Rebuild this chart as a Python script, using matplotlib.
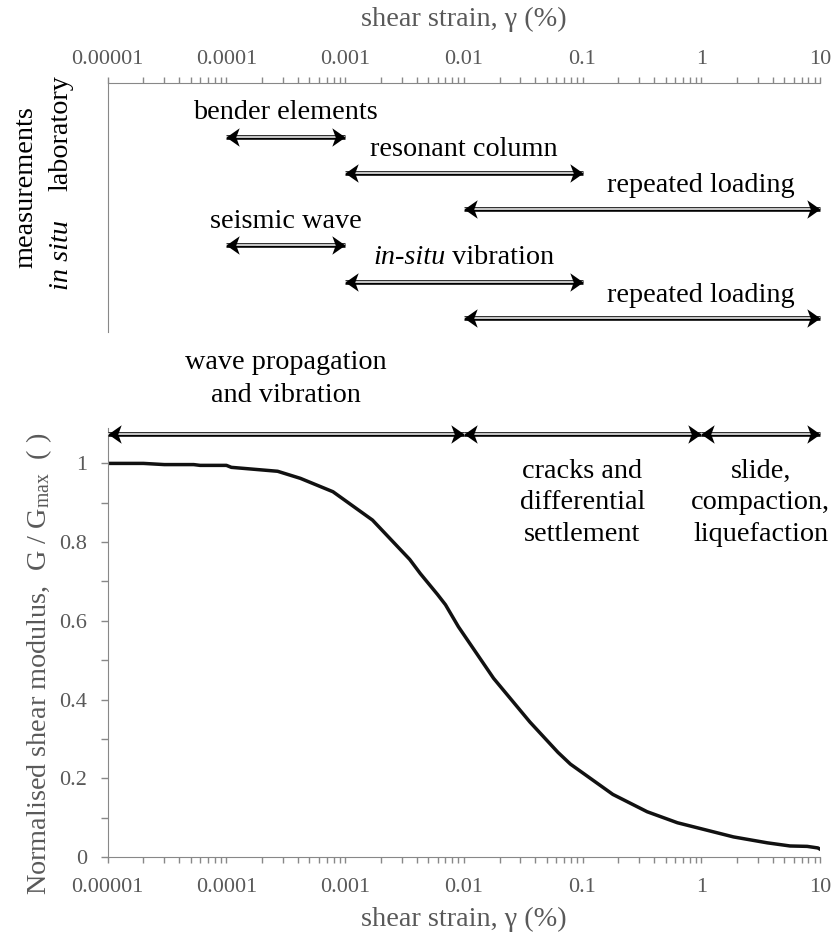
import matplotlib
matplotlib.use("Agg")
import matplotlib.pyplot as plt
from matplotlib.path import Path
from matplotlib.markers import MarkerStyle
from matplotlib.offsetbox import TextArea, HPacker, AnnotationBbox
from matplotlib.ticker import FixedLocator, NullFormatter, LogLocator

plt.rcParams['font.family'] = ['Liberation Serif', 'DejaVu Serif']
plt.rcParams['mathtext.fontset'] = 'custom'
plt.rcParams['mathtext.rm'] = 'Liberation Serif'
plt.rcParams['mathtext.it'] = 'Liberation Serif:italic'

# G/Gmax degradation curve read along the strain axis (%)
strain = [1e-5, 2e-5, 3e-5, 5.3e-5, 6e-5, 1e-4, 1.1e-4, 2.7e-4, 4.2e-4, 7.9e-4,
          1.7e-3, 3.5e-3, 4.3e-3, 6e-3, 7e-3, 9e-3, 0.0178, 0.036, 0.062, 0.079,
          0.18, 0.35, 0.63, 1.87, 3.6, 5.6, 7.8, 9.6, 10]
g_ratio = [1.0, 1.0, 0.997, 0.997, 0.995, 0.995, 0.99, 0.98, 0.962, 0.928,
           0.856, 0.756, 0.72, 0.667, 0.641, 0.585, 0.454, 0.343, 0.266, 0.236,
           0.159, 0.115, 0.087, 0.051, 0.036, 0.028, 0.027, 0.023, 0.02]

# measurement ranges (top panel), one row each
tests = ['bender elements', 'resonant column', 'repeated loading',
         'seismic wave', 'in-situ vibration', 'repeated loading']
test_lo = [1e-4, 1e-3, 1e-2, 1e-4, 1e-3, 1e-2]
test_hi = [1e-3, 1e-1, 10, 1e-3, 1e-1, 10]
test_mid = [3.16e-4, 1e-2, 1.0, 3.16e-4, 1e-2, 1.0]

# behaviour zones (bottom panel)
zones = ['wave propagation\nand vibration', 'cracks and\ndifferential\nsettlement',
         'slide,\ncompaction,\nliquefaction']
zone_lo = [1e-5, 1e-2, 1]
zone_hi = [1e-2, 1, 10]
zone_mid = [3.16e-4, 0.1, 3.16]

xticks = [1e-5, 1e-4, 1e-3, 1e-2, 1e-1, 1, 10]
xlabels = ['0.00001', '0.0001', '0.001', '0.01', '0.1', '1', '10']
yticks = [0, 0.2, 0.4, 0.6, 0.8, 1.0]
ylabels = ['0', '0.2', '0.4', '0.6', '0.8', '1']

GREY = '#595959'
AXGREY = '#888888'
FS = 20.3
TFS = 16

HEAD_R = MarkerStyle(Path([(0, 0), (-1, 0.7), (-0.74, 0), (-1, -0.7), (0, 0)],
                          [Path.MOVETO, Path.LINETO, Path.LINETO, Path.LINETO, Path.CLOSEPOLY]))
HEAD_L = MarkerStyle(Path([(0, 0), (1, 0.7), (0.74, 0), (1, -0.7), (0, 0)],
                          [Path.MOVETO, Path.LINETO, Path.LINETO, Path.LINETO, Path.CLOSEPOLY]))


def dbl_arrow(ax, x0, x1, y):
    kw = dict(clip_on=False, solid_capstyle='butt')
    ax.plot([x0, x1], [y, y], color='k', lw=3.3, zorder=3, **kw)
    ax.plot([x0, x1], [y, y], color='w', lw=1.1, zorder=4, **kw)
    ax.plot([x1], [y], marker=HEAD_R, ms=19, color='k', mew=0, clip_on=False, zorder=5)
    ax.plot([x0], [y], marker=HEAD_L, ms=19, color='k', mew=0, clip_on=False, zorder=5)


def style_xaxis(ax, pad):
    ax.set_xscale('log')
    ax.set_xlim(1e-5, 10)
    ax.xaxis.set_major_locator(FixedLocator(xticks))
    ax.set_xticklabels(xlabels)
    ax.xaxis.set_minor_locator(LogLocator(base=10, subs=range(2, 10), numticks=20))
    ax.xaxis.set_minor_formatter(NullFormatter())
    ax.tick_params(axis='x', which='both', direction='out', length=4,
                   color=AXGREY, labelcolor=GREY, labelsize=TFS, width=1, pad=pad)


fig = plt.figure(figsize=(8.35, 9.4), dpi=100)

# ---- top panel: test methods ----
ax1 = fig.add_axes([0.129, 0.647, 0.853, 0.2649])
style_xaxis(ax1, 6)
ax1.xaxis.tick_top()
ax1.xaxis.set_label_position('top')
ax1.set_xlabel('shear strain, γ (%)', fontsize=FS, color=GREY, labelpad=17)
ax1.set_ylim(5.39, -1.49)
ax1.set_yticks([])
for s in ['bottom', 'right']:
    ax1.spines[s].set_visible(False)
for s in ['top', 'left']:
    ax1.spines[s].set_color(AXGREY)

for i in range(len(tests)):
    dbl_arrow(ax1, test_lo[i], test_hi[i], i)
    ty = i - 0.66 if i < 5 else i - 0.6
    if tests[i].startswith('in-situ'):
        box = HPacker(children=[TextArea('in-situ', textprops=dict(fontsize=FS, style='italic')),
                                TextArea(' vibration', textprops=dict(fontsize=FS))],
                      align='baseline', pad=0, sep=0)
        ab = AnnotationBbox(box, (test_mid[i], ty), frameon=False,
                            box_alignment=(0.5, 0.5), pad=0)
        ax1.add_artist(ab)
    else:
        ax1.text(test_mid[i], ty, tests[i], fontsize=FS, ha='center', va='center')

fig.text(26 / 835, 1 - 187 / 940, 'measurements', rotation=90, fontsize=FS,
         ha='center', va='center')
fig.text(61 / 835, 1 - 133 / 940, 'laboratory', rotation=90, fontsize=FS,
         ha='center', va='center')
fig.text(61 / 835, 1 - 255 / 940, 'in situ', rotation=90, fontsize=FS,
         style='italic', ha='center', va='center')

# ---- bottom panel: modulus degradation ----
ax2 = fig.add_axes([0.129, 0.0883, 0.853, 0.4564])
style_xaxis(ax2, 11)
ax2.set_ylim(0, 1.09)
ax2.set_yticks(yticks)
ax2.set_yticklabels(ylabels)
ax2.yaxis.set_minor_locator(FixedLocator([0.1, 0.3, 0.5, 0.7, 0.9]))
ax2.tick_params(axis='y', which='both', direction='out', length=5,
                color=AXGREY, labelcolor=GREY, labelsize=TFS, width=1, pad=10)
for s in ['top', 'right']:
    ax2.spines[s].set_visible(False)
for s in ['bottom', 'left']:
    ax2.spines[s].set_color(AXGREY)
ax2.set_xlabel('shear strain, γ (%)', fontsize=FS, color=GREY, labelpad=7)
ax2.set_ylabel('Normalised shear modulus,  G / G$_{\\mathrm{max}}$  ( )',
               fontsize=FS, color=GREY)
ax2.yaxis.set_label_coords(-0.076, 0.45)

ax2.plot(strain, g_ratio, color='#111111', lw=2.5, zorder=2)

for i in range(len(zones)):
    dbl_arrow(ax2, zone_lo[i], zone_hi[i], 1.074)
ax2.text(zone_mid[0], 1.215, zones[0], fontsize=FS, ha='center', va='center',
         linespacing=1.45)
for i in range(1, len(zones)):
    ax2.text(zone_mid[i], 0.9, zones[i], fontsize=FS, ha='center', va='center',
             linespacing=1.35)

fig.savefig('out.png', dpi=100)
